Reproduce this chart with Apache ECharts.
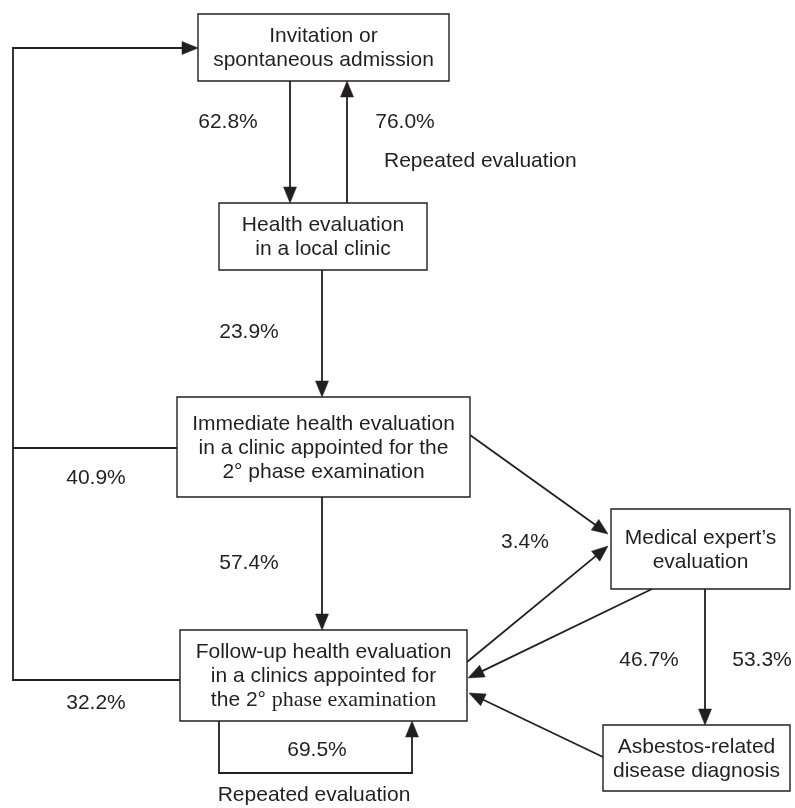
<!DOCTYPE html>
<html><head><meta charset="utf-8">
<script src="https://cdn.jsdelivr.net/npm/echarts@6/dist/echarts.min.js"></script>
<style>html,body{margin:0;padding:0;background:#fff}#c{width:795px;height:808px}</style>
</head><body><div id="c"></div>
<script>
// ---- content ----
const nodeLabels = [
  'Invitation or\nspontaneous admission',
  'Health evaluation\nin a local clinic',
  'Immediate health evaluation\nin a clinic appointed for the\n2° phase examination',
  'Follow-up health evaluation\nin a clinics appointed for\nthe 2° {s|phase examination}',
  'Medical expert\u2019s\nevaluation',
  'Asbestos-related\ndisease diagnosis'
];
const flowPercents = ['62.8%','76.0%','23.9%','40.9%','57.4%','32.2%','69.5%','3.4%','46.7%','53.3%'];
const noteLabels = ['Repeated evaluation','Repeated evaluation'];

// ---- layout (diagram units = pixels of the 795x808 canvas) ----
const boxLayout = [
  [198,14,449,81],
  [219,203,427,270],
  [177,397,470,497],
  [180,630,467,721],
  [611,509,790,589],
  [603,725,790,791]
];
const routeLayout = [
  {pts:[[290,81],[290,203]], arrow:true},
  {pts:[[347,203],[347,81]], arrow:true},
  {pts:[[322,270],[322,397]], arrow:true},
  {pts:[[177,448],[13,448]], arrow:false},
  {pts:[[180,680],[13,680],[13,48],[198,48]], arrow:true},
  {pts:[[322,497],[322,630]], arrow:true},
  {pts:[[219,721],[219,773],[412,773],[412,721]], arrow:true},
  {pts:[[470,435],[608,534]], arrow:true},
  {pts:[[467,662],[608,546]], arrow:true},
  {pts:[[652,589],[468,678]], arrow:true},
  {pts:[[705,589],[705,725]], arrow:true},
  {pts:[[603,757],[469,693]], arrow:true}
];
const percentLayout = [[228,122],[405,122],[249,332],[96,478],[249,563],[96,703],[317,750],[525,542],[649,660],[762,660]];
const noteLayout = [[384,161,'left'],[314,795,'center']];

const INK = '#231f20';
const FONT = '"Liberation Sans", Arial, Helvetica, sans-serif';
const FS = 21;

const chart = echarts.init(document.getElementById('c'), null, {renderer:'canvas'});

const boxSeries = {
  type:'custom', coordinateSystem:'cartesian2d', clip:false, silent:true,
  data: boxLayout.map(b=>[(b[0]+b[2])/2,(b[1]+b[3])/2]),
  renderItem(params, api){
    const b = boxLayout[params.dataIndex];
    const p1 = api.coord([b[0],b[1]]), p2 = api.coord([b[2],b[3]]);
    const c = api.coord([api.value(0), api.value(1)]);
    return {type:'group', children:[
      {type:'rect', shape:{x:p1[0],y:p1[1],width:p2[0]-p1[0],height:p2[1]-p1[1]},
       style:{fill:'#fff', stroke:INK, lineWidth:1.4}},
      {type:'text', x:c[0], y:c[1]+1, style:{
        text: nodeLabels[params.dataIndex], fill:INK, font: FS+'px '+FONT,
        align:'center', verticalAlign:'middle', lineHeight:24,
        rich:{s:{fontFamily:'"Liberation Serif", "Times New Roman", serif', fontSize:22, lineHeight:24, fill:INK}}
      }}
    ]};
  }
};

const edgeSeries = {
  type:'custom', coordinateSystem:'cartesian2d', clip:false, silent:true, z:1,
  data: routeLayout.map(r=>r.pts[0]),
  renderItem(params, api){
    const r = routeLayout[params.dataIndex];
    const px = r.pts.map(p=>api.coord(p));
    const children = [];
    let linePts = px.slice();
    if (r.arrow){
      const n = px.length;
      const tip = px[n-1], prev = px[n-2];
      const dx = tip[0]-prev[0], dy = tip[1]-prev[1];
      const L = Math.hypot(dx,dy), ux = dx/L, uy = dy/L;
      const len = 16, hw = 6.5;
      const bx = tip[0]-ux*len, by = tip[1]-uy*len;
      linePts[n-1] = [bx+ux*2, by+uy*2];
      children.push({type:'polygon', shape:{points:[tip,[bx-uy*hw,by+ux*hw],[bx+uy*hw,by-ux*hw]]},
        style:{fill:INK, stroke:INK, lineWidth:0.5}});
    }
    children.unshift({type:'polyline', shape:{points:linePts}, style:{fill:null, stroke:INK, lineWidth:1.8}});
    return {type:'group', children};
  }
};

const textSeries = {
  type:'custom', coordinateSystem:'cartesian2d', clip:false, silent:true,
  data: percentLayout.map((p,i)=>[p[0],p[1],i]).concat(noteLayout.map((p,i)=>[p[0],p[1],100+i])),
  renderItem(params, api){
    const id = api.value(2);
    const c = api.coord([api.value(0), api.value(1)]);
    const isNote = id>=100;
    const text = isNote ? noteLabels[id-100] : flowPercents[id];
    const align = isNote ? noteLayout[id-100][2] : 'center';
    return {type:'text', x:c[0], y:c[1], style:{text, fill:INK, font: FS+'px '+FONT, align, verticalAlign:'middle'}};
  }
};

chart.setOption({
  animation:false,
  backgroundColor:'#fff',
  grid:{left:0,right:0,top:0,bottom:0},
  xAxis:{type:'value', min:0, max:795, show:false},
  yAxis:{type:'value', min:0, max:808, inverse:true, show:false},
  series:[edgeSeries, boxSeries, textSeries]
});
</script></body></html>
